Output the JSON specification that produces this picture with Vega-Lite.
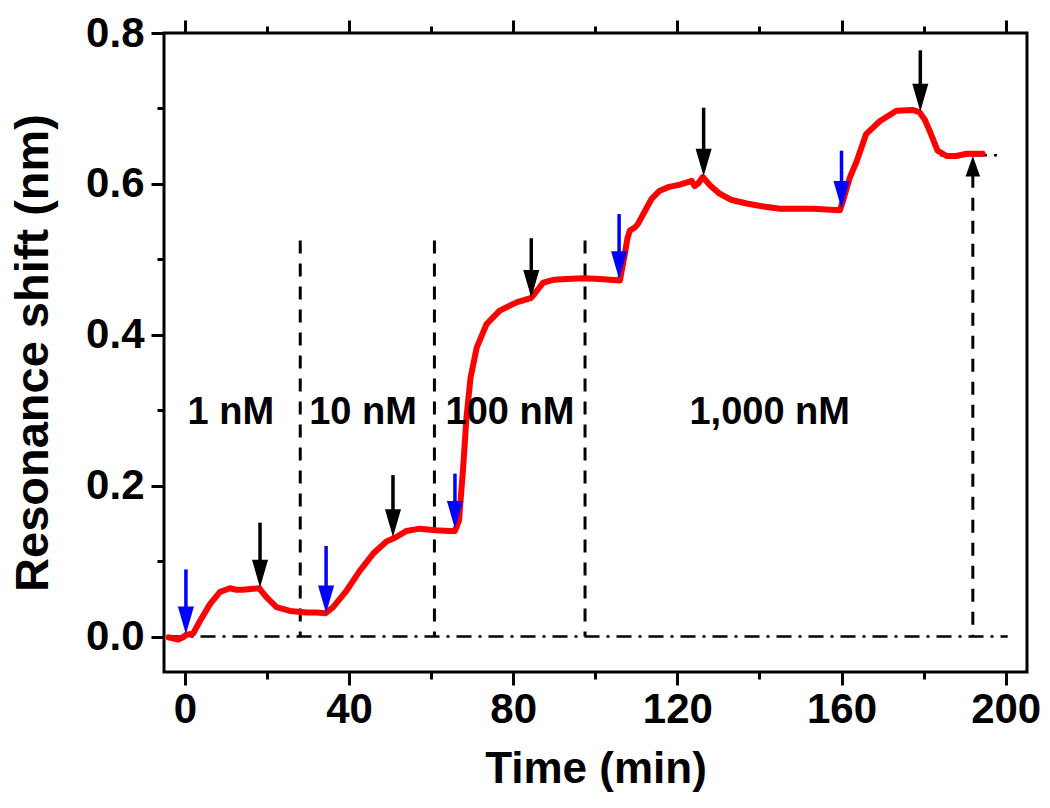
{
  "$schema": "https://vega.github.io/schema/vega-lite/v6.json",
  "width": 863,
  "height": 639,
  "autosize": "none",
  "padding": {"left": 164, "top": 33, "right": 23, "bottom": 136},
  "background": "white",
  "config": {
    "view": {"stroke": "black", "strokeWidth": 3},
    "axis": {
      "domain": false, "grid": false, "tickColor": "black", "tickWidth": 3,
      "labelFont": "Liberation Sans", "labelFontWeight": "bold", "labelFontSize": 42, "labelColor": "black",
      "titleFont": "Liberation Sans", "titleFontWeight": "bold", "titleFontSize": 44, "titleColor": "black",
      "labelOverlap": false, "labelFlush": false, "labelBound": false
    }
  },
  "datasets": {
    "curve": [
      {"t": -4, "v": -0.001}, {"t": -2.5, "v": -0.003}, {"t": -1.6, "v": -0.004}, {"t": -0.5, "v": -0.001},
      {"t": 0.2, "v": 0.002}, {"t": 2, "v": 0.004}, {"t": 3.7, "v": 0.021}, {"t": 6.1, "v": 0.043},
      {"t": 8.5, "v": 0.059}, {"t": 11, "v": 0.064}, {"t": 12.5, "v": 0.062}, {"t": 14.2, "v": 0.062},
      {"t": 16, "v": 0.063}, {"t": 18.1, "v": 0.064}, {"t": 19.9, "v": 0.052}, {"t": 22.3, "v": 0.039},
      {"t": 25.6, "v": 0.034}, {"t": 29.6, "v": 0.032}, {"t": 32, "v": 0.032}, {"t": 34.3, "v": 0.031},
      {"t": 36.1, "v": 0.039}, {"t": 39.4, "v": 0.061}, {"t": 42.6, "v": 0.087}, {"t": 45.9, "v": 0.11},
      {"t": 49.1, "v": 0.126}, {"t": 51.2, "v": 0.131}, {"t": 54, "v": 0.14}, {"t": 57.2, "v": 0.143},
      {"t": 61, "v": 0.141}, {"t": 64.6, "v": 0.14}, {"t": 65.8, "v": 0.14}, {"t": 66.8, "v": 0.154},
      {"t": 67.8, "v": 0.224}, {"t": 68.6, "v": 0.29}, {"t": 69.6, "v": 0.343}, {"t": 71.1, "v": 0.383},
      {"t": 73.5, "v": 0.414}, {"t": 76.7, "v": 0.432}, {"t": 80.8, "v": 0.443}, {"t": 84.4, "v": 0.449},
      {"t": 86, "v": 0.46}, {"t": 87.3, "v": 0.469}, {"t": 90, "v": 0.473}, {"t": 93, "v": 0.474},
      {"t": 97, "v": 0.475}, {"t": 101.1, "v": 0.474}, {"t": 106, "v": 0.472}, {"t": 107.2, "v": 0.507},
      {"t": 107.8, "v": 0.527}, {"t": 108.4, "v": 0.538}, {"t": 109.6, "v": 0.542}, {"t": 110.4, "v": 0.547},
      {"t": 112.5, "v": 0.568}, {"t": 113.7, "v": 0.58}, {"t": 115.7, "v": 0.591}, {"t": 118, "v": 0.596},
      {"t": 120.6, "v": 0.599}, {"t": 123.5, "v": 0.604}, {"t": 124.2, "v": 0.597}, {"t": 125, "v": 0.6},
      {"t": 126.2, "v": 0.609}, {"t": 128, "v": 0.598}, {"t": 130.3, "v": 0.587}, {"t": 133, "v": 0.579},
      {"t": 136.9, "v": 0.574}, {"t": 141, "v": 0.57}, {"t": 145, "v": 0.567}, {"t": 153, "v": 0.567},
      {"t": 159.6, "v": 0.565}, {"t": 160.5, "v": 0.58}, {"t": 162, "v": 0.608}, {"t": 163.7, "v": 0.63},
      {"t": 166, "v": 0.666}, {"t": 169.3, "v": 0.683}, {"t": 173.4, "v": 0.697}, {"t": 177.3, "v": 0.698},
      {"t": 179, "v": 0.695}, {"t": 180.3, "v": 0.685}, {"t": 181.5, "v": 0.67}, {"t": 183.4, "v": 0.644},
      {"t": 185.6, "v": 0.637}, {"t": 188, "v": 0.637}, {"t": 190.5, "v": 0.64}, {"t": 192.5, "v": 0.64},
      {"t": 194.4, "v": 0.64}
    ],
    "arrows": [
      {"t": 0.24, "top": 0.089, "tip": 0.003, "kind": "injection"},
      {"t": 18.3, "top": 0.151, "tip": 0.065, "kind": "wash"},
      {"t": 34.4, "top": 0.12, "tip": 0.031, "kind": "injection"},
      {"t": 50.7, "top": 0.214, "tip": 0.132, "kind": "wash"},
      {"t": 65.8, "top": 0.216, "tip": 0.143, "kind": "injection"},
      {"t": 84.4, "top": 0.528, "tip": 0.449, "kind": "wash"},
      {"t": 105.8, "top": 0.56, "tip": 0.474, "kind": "injection"},
      {"t": 126.4, "top": 0.701, "tip": 0.61, "kind": "wash"},
      {"t": 160, "top": 0.644, "tip": 0.567, "kind": "injection"},
      {"t": 179.2, "top": 0.777, "tip": 0.696, "kind": "wash"}
    ],
    "vlines": [
      {"t": 28.1, "lo": 0, "hi": 0.525},
      {"t": 60.8, "lo": 0, "hi": 0.525},
      {"t": 97.5, "lo": 0, "hi": 0.525},
      {"t": 192, "lo": 0, "hi": 0.612}
    ],
    "uparrow": [{"t": 192, "v": 0.637}],
    "hlines": [
      {"t1": -4, "t2": 200.5, "v": 0},
      {"t1": 184, "t2": 199.5, "v": 0.638}
    ],
    "labels": [
      {"t": 11.2, "v": 0.282, "text": "1 nM"},
      {"t": 43.4, "v": 0.282, "text": "10 nM"},
      {"t": 79.2, "v": 0.282, "text": "100 nM"},
      {"t": 142.5, "v": 0.282, "text": "1,000 nM"}
    ]
  },
  "resolve": {"axis": {"x": "independent", "y": "independent"}},
  "layer": [
    {
      "data": {"name": "hlines"},
      "mark": {"type": "rule", "color": "black", "strokeWidth": 2.5, "strokeDash": [15, 7, 3, 7]},
      "encoding": {
        "x": {"field": "t1", "type": "quantitative", "scale": {"domain": [-5.1, 205.2], "nice": false, "zero": false}, "axis": null},
        "x2": {"field": "t2"},
        "y": {"field": "v", "type": "quantitative", "scale": {"domain": [-0.047, 0.8], "nice": false, "zero": false}, "axis": null}
      }
    },
    {
      "data": {"name": "vlines"},
      "mark": {"type": "rule", "color": "black", "strokeWidth": 3, "strokeDash": [13, 10]},
      "encoding": {
        "x": {"field": "t", "type": "quantitative", "scale": {"domain": [-5.1, 205.2], "nice": false, "zero": false}, "axis": null},
        "y": {"field": "hi", "type": "quantitative", "scale": {"domain": [-0.047, 0.8], "nice": false, "zero": false}, "axis": null},
        "y2": {"field": "lo"}
      }
    },
    {
      "data": {"name": "curve"},
      "mark": {"type": "line", "color": "#ff0000", "strokeWidth": 6, "strokeJoin": "round", "strokeCap": "round"},
      "encoding": {
        "x": {"field": "t", "type": "quantitative", "scale": {"domain": [-5.1, 205.2], "nice": false, "zero": false},
          "axis": {"orient": "bottom", "title": "Time (min)", "values": [0, 20, 40, 60, 80, 100, 120, 140, 160, 180, 200],
            "tickSize": {"condition": {"test": "datum.value % 40 !== 0", "value": 7}, "value": 13},
            "labelExpr": "datum.value % 40 === 0 ? datum.label : ''", "labelPadding": 4, "titlePadding": 17}},
        "y": {"field": "v", "type": "quantitative", "scale": {"domain": [-0.047, 0.8], "nice": false, "zero": false},
          "axis": {"orient": "left", "title": "Resonance shift (nm)", "titleFontSize": 47, "values": [0, 0.1, 0.2, 0.3, 0.4, 0.5, 0.6, 0.7, 0.8],
            "tickSize": {"condition": {"test": "round(datum.value * 10) % 2 === 1", "value": 7}, "value": 13},
            "labelExpr": "round(datum.value * 10) % 2 === 0 ? format(datum.value, '.1f') : ''", "labelPadding": 7, "titlePadding": 28}}
      }
    },
    {
      "data": {"name": "arrows"},
      "mark": {"type": "rule", "strokeWidth": 3.5, "y2Offset": -16},
      "encoding": {
        "x": {"field": "t", "type": "quantitative", "scale": {"domain": [-5.1, 205.2], "nice": false, "zero": false}, "axis": null},
        "y": {"field": "top", "type": "quantitative", "scale": {"domain": [-0.047, 0.8], "nice": false, "zero": false}, "axis": null},
        "y2": {"field": "tip"},
        "color": {"field": "kind", "type": "nominal", "scale": {"domain": ["injection", "wash"], "range": ["#0000ff", "#000000"]}, "legend": null}
      }
    },
    {
      "data": {"name": "arrows"},
      "mark": {"type": "point", "filled": true, "opacity": 1, "strokeWidth": 0, "size": 850, "shape": "M-0.55,-1.9L0.55,-1.9L0,0Z"},
      "encoding": {
        "x": {"field": "t", "type": "quantitative", "scale": {"domain": [-5.1, 205.2], "nice": false, "zero": false}, "axis": null},
        "y": {"field": "tip", "type": "quantitative", "scale": {"domain": [-0.047, 0.8], "nice": false, "zero": false}, "axis": null},
        "color": {"field": "kind", "type": "nominal", "scale": {"domain": ["injection", "wash"], "range": ["#0000ff", "#000000"]}, "legend": null}
      }
    },
    {
      "data": {"name": "uparrow"},
      "mark": {"type": "point", "filled": true, "opacity": 1, "strokeWidth": 0, "size": 850, "color": "black", "shape": "M-0.5,1.4L0.5,1.4L0,0Z"},
      "encoding": {
        "x": {"field": "t", "type": "quantitative", "scale": {"domain": [-5.1, 205.2], "nice": false, "zero": false}, "axis": null},
        "y": {"field": "v", "type": "quantitative", "scale": {"domain": [-0.047, 0.8], "nice": false, "zero": false}, "axis": null}
      }
    },
    {
      "data": {"name": "labels"},
      "mark": {"type": "text", "font": "Liberation Sans", "fontWeight": "bold", "fontSize": 38, "align": "center", "baseline": "alphabetic", "color": "black"},
      "encoding": {
        "x": {"field": "t", "type": "quantitative", "scale": {"domain": [-5.1, 205.2], "nice": false, "zero": false},
          "axis": {"orient": "top", "title": null, "labels": false, "values": [0, 20, 40, 60, 80, 100, 120, 140, 160, 180, 200],
            "tickSize": {"condition": {"test": "datum.value % 40 !== 0", "value": 7}, "value": 13}}},
        "y": {"field": "v", "type": "quantitative", "scale": {"domain": [-0.047, 0.8], "nice": false, "zero": false}, "axis": null},
        "text": {"field": "text"}
      }
    }
  ]
}
